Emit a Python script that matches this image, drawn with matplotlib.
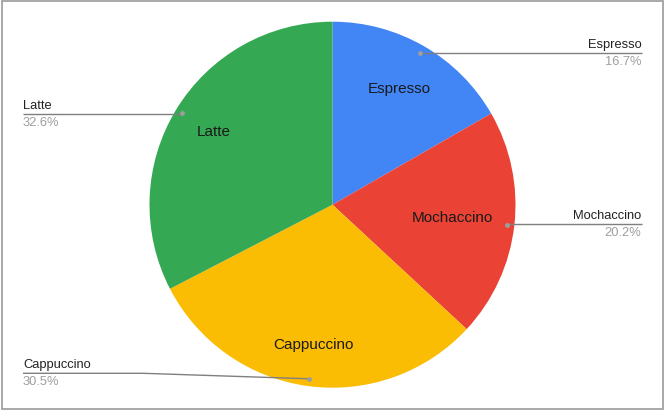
import numpy as np
from matplotlib import pyplot as plt
from matplotlib.patches import Rectangle

drinks = ["Espresso", "Mochaccino", "Cappuccino", "Latte"]
shares = [16.7, 20.2, 30.5, 32.6]
pct_labels = ["16.7%", "20.2%", "30.5%", "32.6%"]

colors = ["#4285F4", "#EA4335", "#FBBC04", "#34A853"]

# layout (pixels, measured from the top-left of the image)
W, H = 664, 411
cx, cy_top = 332.5, 204.7
radius = 183
inner_r = [0.73, 0.66, 0.775, 0.76]
dot_r = 0.96
sides = ["right", "right", "left", "left"]
line_y = [53.3, 224.3, 373.3, 114.3]
left_x, right_x = 23, 641.5
kink_x = [None, None, 143, None]

plt.rcParams["font.family"] = ["Liberation Sans", "DejaVu Sans"]

fig = plt.figure(figsize=(W / 100, H / 100), dpi=100)
ax = fig.add_axes([0, 0, 1, 1])

cy = H - cy_top
ax.pie(
    shares,
    colors=colors,
    startangle=90,
    counterclock=False,
    radius=radius,
    center=(cx, cy),
    wedgeprops=dict(linewidth=0),
)
ax.set_xlim(0, W)
ax.set_ylim(0, H)
ax.set_aspect("equal")
ax.axis("off")

# mid angles of each slice
fracs = np.array(shares) / np.sum(shares)
starts = np.concatenate([[0], np.cumsum(fracs)[:-1]])
mids = np.deg2rad(90 - (starts + fracs / 2) * 360)

for i, name in enumerate(drinks):
    a = mids[i]
    # label inside the slice
    tx = cx + inner_r[i] * radius * np.cos(a)
    ty = cy + inner_r[i] * radius * np.sin(a)
    ax.text(tx, ty, name, ha="center", va="center", fontsize=11, color="#1a1a1a")

    # leader line with dot
    dx = cx + dot_r * radius * np.cos(a)
    dy = cy + dot_r * radius * np.sin(a)
    ly = H - line_y[i]
    if sides[i] == "right":
        xs, ys = [dx, right_x], [dy, ly]
        ys = [ly, ly]
        tx2, ha = right_x, "right"
    else:
        if kink_x[i] is not None:
            xs, ys = [left_x, kink_x[i], dx], [ly, ly, dy]
        else:
            xs, ys = [left_x, dx], [ly, ly]
        tx2, ha = left_x, "left"
    ax.plot(xs, ys, color="#7f7f7f", linewidth=1, solid_capstyle="butt")
    ax.plot([dx], [dy], "o", color="#9e9e9e", markersize=3.5, markeredgewidth=0)

    ax.text(tx2, ly + 8.5, name, ha=ha, va="center", fontsize=9.3, color="#222222")
    ax.text(tx2, ly - 8.5, pct_labels[i], ha=ha, va="center", fontsize=9.3, color="#9e9e9e")

# outer frame
ax.add_patch(Rectangle((2, H - 409), 661, 408, fill=False, edgecolor="#9a9a9a",
                       linewidth=1.2, clip_on=False))

fig.savefig("out.png", dpi=100)
